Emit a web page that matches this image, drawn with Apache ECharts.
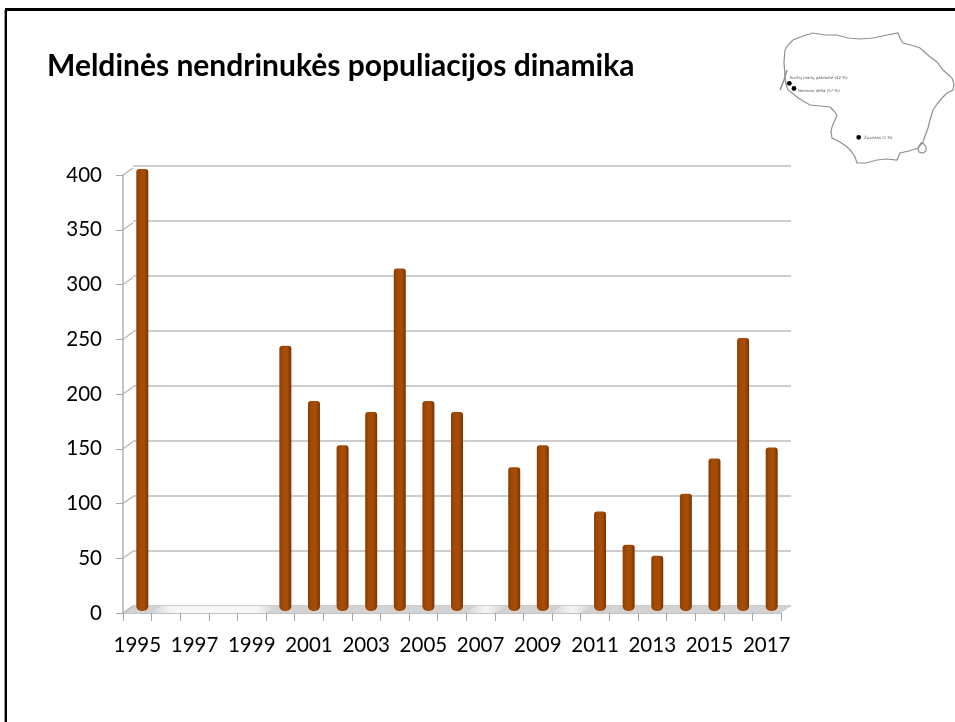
<!DOCTYPE html>
<html>
<head>
<meta charset="utf-8">
<style>html,body{margin:0;padding:0;background:#fff}#main{width:955px;height:722px}</style>
<script src="https://cdn.jsdelivr.net/npm/echarts@6/dist/echarts.min.js"></script>
</head>
<body>
<div id="main"></div>
<script>
var years = ['1995','1996','1997','1998','1999','2000','2001','2002','2003','2004','2005','2006','2007','2008','2009','2010','2011','2012','2013','2014','2015','2016','2017'];
var counts = [400,null,null,null,null,240,190,150,180,310,190,180,null,130,150,null,90,60,50,106,138,247,148];
var yTicks = [0,50,100,150,200,250,300,350,400];
var sites = [
  {name:'Kuršių marių pakrantė (42 %)', x:789.3, y:83.3, tx:790, ty:78},
  {name:'Nemuno delta (57 %)', x:794, y:88.5, tx:798, ty:90.7},
  {name:'Žuvintas (1 %)', x:858.7, y:137.3, tx:864, ty:137.5}
];
// kontūras, nuskaitytas nuo paveikslo
var outline = [[785,50],[788,45],[793,40],[803,36],[813,33],[825,35],[837,35],[848,38],[860,39],[873,38],[887,35],[898,33],[900,38],[903,43],[911,45],[920,48],[929,56],[937,62],[943,70],[952,78],[954,84],[953,90],[947,93],[942,98],[937,104],[933,110],[930,120],[928,128],[925,136],[923,142],[918,148],[909,151],[900,153],[897,160],[887,159],[877,160],[866,163],[857,163],[855,157],[851,151],[847,147],[840,142],[832,138],[831,132],[832,127],[837,115],[834,111],[830,107],[820,106],[810,105],[803,101],[797,97],[788,90],[786,84],[785,77],[784,62],[785,50]];
var spit = [[787,70],[784,80],[780,90]];
var lake = [[919,146],[921,143],[924,144],[926,147],[926,151],[923,153],[919,152],[918,149],[919,146]];

var chart = echarts.init(document.getElementById('main'), null, {renderer:'canvas'});

// grid 0: priekinė ašis, grid 1: galinė siena, grid 2: stulpeliai
var front = {left:123, right:174, top:175, bottom:109};
var back = {left:133, right:164, top:166, bottom:116};
var bars = {left:128, right:169, top:169, bottom:111};
var dx = 10, dy = -7;

function depthItem(params, api) {
  // įstrižainės nuo priekinės ašies iki galinės sienos
  var p = api.coord([0, api.value(0)]);
  var left = params.coordSys.x;
  return {type:'line', shape:{x1:left, y1:p[1], x2:left+dx, y2:p[1]+dy}, style:{stroke:'#b8b8b8', lineWidth:1.5}, silent:true};
}
function floorItem(params, api) {
  var i = params.dataIndex;
  var x0 = params.coordSys.x + i*params.coordSys.width/years.length;
  var x1 = x0 + params.coordSys.width/years.length;
  var y0 = params.coordSys.y + params.coordSys.height;
  var has = counts[i] != null, prev = counts[i-1] != null, next = counts[i+1] != null;
  var off = '#f6f6f6', on = '#d2d2d2';
  return {type:'polygon', shape:{points:[[x0,y0],[x1,y0],[x1+dx,y0+dy],[x0+dx,y0+dy]]},
    style:{fill:new echarts.graphic.LinearGradient(0,0,1,0,[
      {offset:0,color:(has||prev)?on:off},{offset:0.5,color:has?on:off},{offset:1,color:(has||next)?on:off}])}, silent:true};
}

var option = {
  animation:false,
  backgroundColor:'#fff',
  textStyle:{fontFamily:'Lato, "Open Sans", sans-serif'},
  title:{text:'Meldinės nendrinukės populiacijos dinamika', left:47, top:51, padding:0,
    textStyle:{fontFamily:'Lato, "Open Sans", sans-serif', fontSize:30, fontWeight:'bold', color:'#000'}},
  grid:[
    {left:front.left, right:front.right, top:front.top, bottom:front.bottom},
    {left:back.left, right:back.right, top:back.top, bottom:back.bottom},
    {left:bars.left, right:bars.right, top:bars.top, bottom:bars.bottom}
  ],
  xAxis:[
    {type:'category', gridIndex:0, data:years, boundaryGap:true,
      axisLine:{lineStyle:{color:'#b0b0b0', width:1.5}},
      axisTick:{show:true, alignWithLabel:false, length:8, interval:0, lineStyle:{color:'#a6a6a6', width:1}},
      axisLabel:{interval:1, color:'#000', fontSize:20.5, margin:22, fontFamily:'Lato, sans-serif', hideOverlap:false}},
    {type:'category', gridIndex:1, data:years, show:false},
    {type:'category', gridIndex:2, data:years, show:false}
  ],
  yAxis:[
    {type:'value', gridIndex:0, min:0, max:400, interval:50,
      axisLine:{show:true, lineStyle:{color:'#b0b0b0', width:1.5}},
      axisTick:{show:true, length:7, lineStyle:{color:'#a6a6a6', width:1}},
      splitLine:{show:false},
      axisLabel:{color:'#000', fontSize:20.5, margin:21, fontFamily:'Lato, sans-serif'}},
    {type:'value', gridIndex:1, min:0, max:400, interval:50, axisLine:{show:false}, axisTick:{show:false}, axisLabel:{show:false},
      splitLine:{show:true, lineStyle:{color:'#bdbdbd', width:1.5}}},
    {type:'value', gridIndex:2, min:0, max:400, show:false}
  ],
  series:[
    {type:'custom', xAxisIndex:0, yAxisIndex:0, renderItem:floorItem, data:years.map(function(y){return [y]}), encode:{x:0}, z:1, silent:true},
    {type:'custom', xAxisIndex:0, yAxisIndex:0, coordinateSystem:'cartesian2d', renderItem:depthItem, encode:{y:0}, data:yTicks.map(function(v){return [v]}), z:2, silent:true},
    {type:'bar', xAxisIndex:2, yAxisIndex:2, data:counts, barWidth:12, z:5, silent:true,
      itemStyle:{borderRadius:[3,3,5,5],
        color:new echarts.graphic.LinearGradient(0,0,1,0,[
          {offset:0,color:'#8a3f04'},{offset:0.3,color:'#a24a05'},{offset:0.65,color:'#a84d05'},{offset:1,color:'#773503'}])}}
  ],
  graphic:[
    {type:'line', shape:{x1:5, y1:9.5, x2:955, y2:9.5}, style:{stroke:'#000', lineWidth:3}, z:20},
    {type:'line', shape:{x1:6, y1:8, x2:6, y2:722}, style:{stroke:'#000', lineWidth:2}, z:20},
    {type:'line', shape:{x1:4.5, y1:10, x2:4.5, y2:722}, style:{stroke:'#999', lineWidth:1}, z:20},
    {type:'polyline', shape:{points:outline}, style:{stroke:'#8f8f8f', lineWidth:1.2, fill:'none'}, z:20},
    {type:'polyline', shape:{points:lake}, style:{stroke:'#8f8f8f', lineWidth:1.2, fill:'none'}, z:20},
    {type:'polyline', shape:{points:spit}, style:{stroke:'#8f8f8f', lineWidth:1.5, fill:'none'}, z:20}
  ].concat(sites.map(function(s){
    return {type:'circle', shape:{cx:s.x, cy:s.y, r:2.4}, style:{fill:'#000'}, z:21};
  })).concat(sites.map(function(s){
    return {type:'text', x:s.tx, y:s.ty, style:{text:s.name, font:'3.9px "DejaVu Sans"', fill:'#555', textVerticalAlign:'middle'}, z:21};
  }))
};
chart.setOption(option);
</script>
</body>
</html>
